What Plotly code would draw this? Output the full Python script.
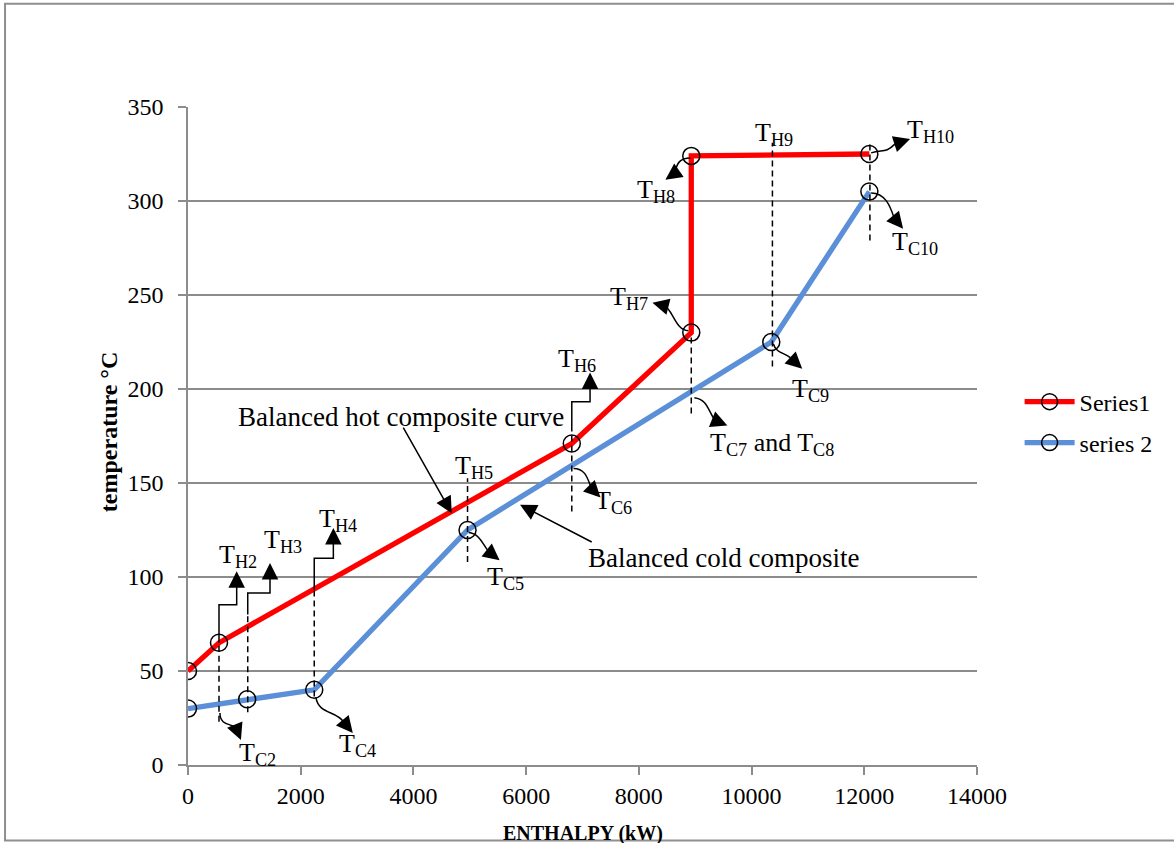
import plotly.graph_objects as go

# ---------------- data ----------------
hot_enthalpy = [0, 550, 6810, 8930, 8930, 12090]
hot_temp = [50, 65, 171, 230, 324, 325]
cold_enthalpy = [0, 1050, 2240, 4960, 10350, 12090]
cold_temp = [30, 35, 40, 125, 225, 305]
x_ticks = [0, 2000, 4000, 6000, 8000, 10000, 12000, 14000]
x_tick_labels = ["0", "2000", "4000", "6000", "8000", "10000", "12000", "14000"]
y_ticks = [0, 50, 100, 150, 200, 250, 300, 350]

# text labels: (text, enthalpy, temperature) -- left edge / vertical middle
labels = [
    ("T<sub>H2</sub>", 515, 111.3),
    ("T<sub>H3</sub>", 1308, 119.2),
    ("T<sub>H4</sub>", 2284, 130.4),
    ("T<sub>H5</sub>", 4703, 158.5),
    ("T<sub>H6</sub>", 6531, 215.3),
    ("T<sub>H7</sub>", 7453, 248.2),
    ("T<sub>H8</sub>", 7932, 305.1),
    ("T<sub>H9</sub>", 10026, 335.9),
    ("T<sub>H10</sub>", 12724, 337.5),
    ("T<sub>C10</sub>", 12458, 277.5),
    ("T<sub>C9</sub>", 10683, 199.4),
    ("T<sub>C7</sub> and T<sub>C8</sub>", 9228, 170.7),
    ("T<sub>C6</sub>", 7187, 139.9),
    ("T<sub>C5</sub>", 5271, 99.5),
    ("T<sub>C4</sub>", 2644, 10.4),
    ("T<sub>C2</sub>", 870, 6.1),
    ("Balanced hot composite curve", 850, 185.1),
    ("Balanced cold composite", 7060, 110.3),
]

# dashed guide lines: (enthalpy, t_low, t_high)
dashed = [
    (550, 23, 65), (1060, 28, 80), (2240, 36.5, 93.2), (4960, 108, 152.5),
    (6810, 134.8, 178.2), (8930, 187, 229), (10370, 212, 331), (12100, 279, 332),
]

# stepped leader arrows: list of points, last segment ends in arrow tip
steps = [
    [(550, 65), (550, 85.2), (864, 85.2), (864, 96), (864, 103)],
    [(1060, 80), (1060, 91.5), (1455, 91.5), (1455, 100), (1455, 107.4)],
    [(2240, 93.2), (2240, 110), (2579, 110), (2579, 119), (2579, 126)],
    [(6810, 178.2), (6810, 193.2), (7134, 193.2), (7134, 202), (7134, 208.8)],
]

# wavy leader arrows: start, ctrl1, ctrl2, end, tip
waves = [
    [(567, 27.6), (567, 19.7), (833, 22.8), (868, 18.6), (939, 13.3)],
    [(2268, 36.1), (2322, 26.6), (2623, 29.2), (2765, 22.8), (2924, 17.0)],
    [(4980, 123.7), (5193, 123.2), (5246, 115.8), (5352, 113.1), (5529, 108.9)],
    [(6841, 157.7), (7053, 157.7), (7089, 152.4), (7160, 147.1), (7319, 142.3)],
    [(8985, 195.4), (9233, 194.4), (9233, 187.5), (9357, 183.2), (9570, 180.6)],
    [(10385, 224.1), (10438, 218.8), (10598, 219.3), (10686, 216.7), (10899, 210.8)],
    [(12122, 304.3), (12370, 304.3), (12459, 297.4), (12529, 291.0), (12689, 285.2)],
    [(12122, 325.6), (12317, 327.7), (12370, 325.0), (12547, 330.4), (12813, 333.0)],
    [(8914, 322.9), (8737, 322.9), (8666, 320.3), (8648, 315.0), (8471, 311.3)],
    [(8879, 231.0), (8648, 231.0), (8595, 242.7), (8453, 244.3), (8241, 245.9)],
]

# straight pointer arrows: (tail, tip)
pointers = [
    ((3805, 180.3), (4680, 133.9)),
    ((7190, 118.2), (5892, 138.4)),
]

FONT = "Liberation Serif"
RED = "#ff0000"
BLUE = "#5b8fd7"
GRID = "#8c8c8c"

fig = go.Figure()
mk = dict(symbol="circle-open", size=17, color="black", line=dict(width=1.5, color="black"))
fig.add_trace(go.Scatter(x=hot_enthalpy, y=hot_temp, mode="lines+markers", name="Series1",
                         line=dict(color=RED, width=5.3), marker=mk, legend="legend",
                         showlegend=True))
fig.add_trace(go.Scatter(x=cold_enthalpy, y=cold_temp, mode="lines+markers", name="series 2",
                         line=dict(color=BLUE, width=5.3), marker=mk, legend="legend2",
                         showlegend=True))

shapes = []
for x, y0, y1 in dashed:
    shapes.append(dict(type="line", xref="x", yref="y", x0=x, x1=x, y0=y0, y1=y1,
                       line=dict(color="black", width=1.5, dash="6px,4px")))

annotations = []
arrow_common = dict(showarrow=True, arrowhead=2, arrowsize=2.2, arrowwidth=1.5,
                    arrowcolor="black", axref="x", ayref="y", xref="x", yref="y", text="",
                    standoff=0)
for pts in steps:
    path = "M" + " L".join(f"{x},{y}" for x, y in pts[:-1])
    shapes.append(dict(type="path", xref="x", yref="y", path=path,
                       line=dict(color="black", width=1.5)))
    (ex, ey), (tx, ty) = pts[-2], pts[-1]
    annotations.append(dict(x=tx, y=ty, ax=ex, ay=ey, **arrow_common))

for s, c1, c2, e, t in waves:
    path = f"M{s[0]},{s[1]} C{c1[0]},{c1[1]} {c2[0]},{c2[1]} {e[0]},{e[1]}"
    shapes.append(dict(type="path", xref="x", yref="y", path=path,
                       line=dict(color="black", width=1.5)))
    annotations.append(dict(x=t[0], y=t[1], ax=e[0], ay=e[1], **arrow_common))

for tail, tip in pointers:
    annotations.append(dict(x=tip[0], y=tip[1], ax=tail[0], ay=tail[1], **arrow_common))

for text, x, y in labels:
    annotations.append(dict(x=x, y=y, xref="x", yref="y", text=text, showarrow=False,
                            xanchor="left", yanchor="middle",
                            font=dict(family=FONT, size=27 if text.startswith("B") else 26,
                                      color="black")))

# axis titles
annotations.append(dict(x=0.5, y=-0.104, xref="paper", yref="paper", showarrow=False,
                        text="<b>ENTHALPY (kW)</b>", xanchor="center", yanchor="middle",
                        font=dict(family=FONT, size=20, color="black")))
annotations.append(dict(x=-0.100, y=0.506, xref="paper", yref="paper", showarrow=False,
                        text="<b>temperature °C</b>", textangle=-90, xanchor="center",
                        yanchor="middle", font=dict(family=FONT, size=24, color="black")))

# outer frame
shapes.append(dict(type="rect", xref="paper", yref="paper", x0=-0.2319, x1=1.4,
                   y0=-0.1146, y1=1.157, line=dict(color="#8f8f8f", width=2), layer="below"))

fig.update_layout(
    width=1174, height=843,
    margin=dict(l=188, r=197, t=107, b=78, autoexpand=False),
    paper_bgcolor="white", plot_bgcolor="white",
    showlegend=True,
    font=dict(family=FONT, size=24, color="black"),
    xaxis=dict(range=[0, 14000], tickvals=x_ticks, ticktext=x_tick_labels, showgrid=False,
               zeroline=False, showline=True, linecolor=GRID, linewidth=1.5, ticks="outside",
               ticklen=8, tickwidth=1.5, tickcolor=GRID,
               tickfont=dict(family=FONT, size=24, color="black"), automargin=False),
    yaxis=dict(range=[0, 350], tickvals=y_ticks, showgrid=True, gridcolor=GRID, gridwidth=1.5,
               zeroline=False, showline=True, linecolor=GRID, linewidth=1.5, ticks="outside",
               ticklen=8, tickwidth=1.5, tickcolor=GRID, ticklabelstandoff=10,
               tickfont=dict(family=FONT, size=24, color="black"), automargin=False),
    legend=dict(x=1.054, y=0.5516, xanchor="left", yanchor="middle", bgcolor="rgba(0,0,0,0)",
                itemwidth=50, font=dict(family=FONT, size=24, color="black")),
    legend2=dict(x=1.054, y=0.4894, xanchor="left", yanchor="middle", bgcolor="rgba(0,0,0,0)",
                 itemwidth=50, font=dict(family=FONT, size=24, color="black")),
    shapes=shapes,
    annotations=annotations,
)

fig.write_html("out.html", config={"displayModeBar": False},
               post_script="document.body.style.margin='0px';document.body.style.overflow='hidden';")
